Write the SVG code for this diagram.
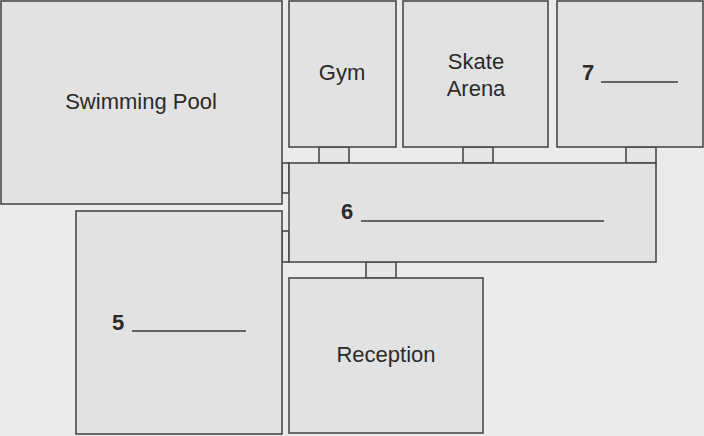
<svg xmlns="http://www.w3.org/2000/svg" width="704" height="436" viewBox="0 0 704 436">
<style>
.room{fill:#e2e2e2;stroke:#4a4a4a;stroke-width:1.6}
.conn{fill:#e6e6e6;stroke:#4a4a4a;stroke-width:1.6}
.lbl{font-family:"Liberation Sans",Arial,sans-serif;font-size:22px;fill:#2a2a2a;text-anchor:middle}
.num{font-family:"Liberation Sans",Arial,sans-serif;font-size:22px;font-weight:bold;fill:#2a2a2a}
.blank{stroke:#3a3a3a;stroke-width:1.6}
</style>
<rect width="704" height="436" fill="#ebebeb"/>
<g id="connectors">
<rect class="conn" x="319" y="147" width="30" height="16"/>
<rect class="conn" x="463" y="147" width="30" height="16"/>
<rect class="conn" x="626" y="147" width="30" height="16"/>
<rect class="conn" x="282" y="163" width="7" height="30"/>
<rect class="conn" x="282" y="231" width="7" height="31"/>
<rect class="conn" x="366" y="262" width="30" height="16"/>
</g>
<g id="pool">
<rect class="room" x="1" y="1" width="281" height="203"/>
<text class="lbl" x="141" y="109">Swimming Pool</text>
</g>
<g id="gym">
<rect class="room" x="289" y="1" width="107" height="146"/>
<text class="lbl" x="342" y="80">Gym</text>
</g>
<g id="skate">
<rect class="room" x="403" y="1" width="145" height="146"/>
<text class="lbl" x="476" y="69">Skate</text>
<text class="lbl" x="476" y="96">Arena</text>
</g>
<g id="room7">
<rect class="room" x="557" y="1" width="146" height="146"/>
<text class="num" x="582" y="80">7</text>
<line class="blank" x1="601" y1="82" x2="678" y2="82"/>
</g>
<g id="corridor6">
<rect class="room" x="289" y="163" width="367" height="99"/>
<text class="num" x="341" y="219">6</text>
<line class="blank" x1="361" y1="221" x2="604" y2="221"/>
</g>
<g id="room5">
<rect class="room" x="76" y="211" width="206" height="223"/>
<text class="num" x="112" y="330">5</text>
<line class="blank" x1="132" y1="331" x2="246" y2="331"/>
</g>
<g id="reception">
<rect class="room" x="289" y="278" width="194" height="155"/>
<text class="lbl" x="386" y="362">Reception</text>
</g>
</svg>
